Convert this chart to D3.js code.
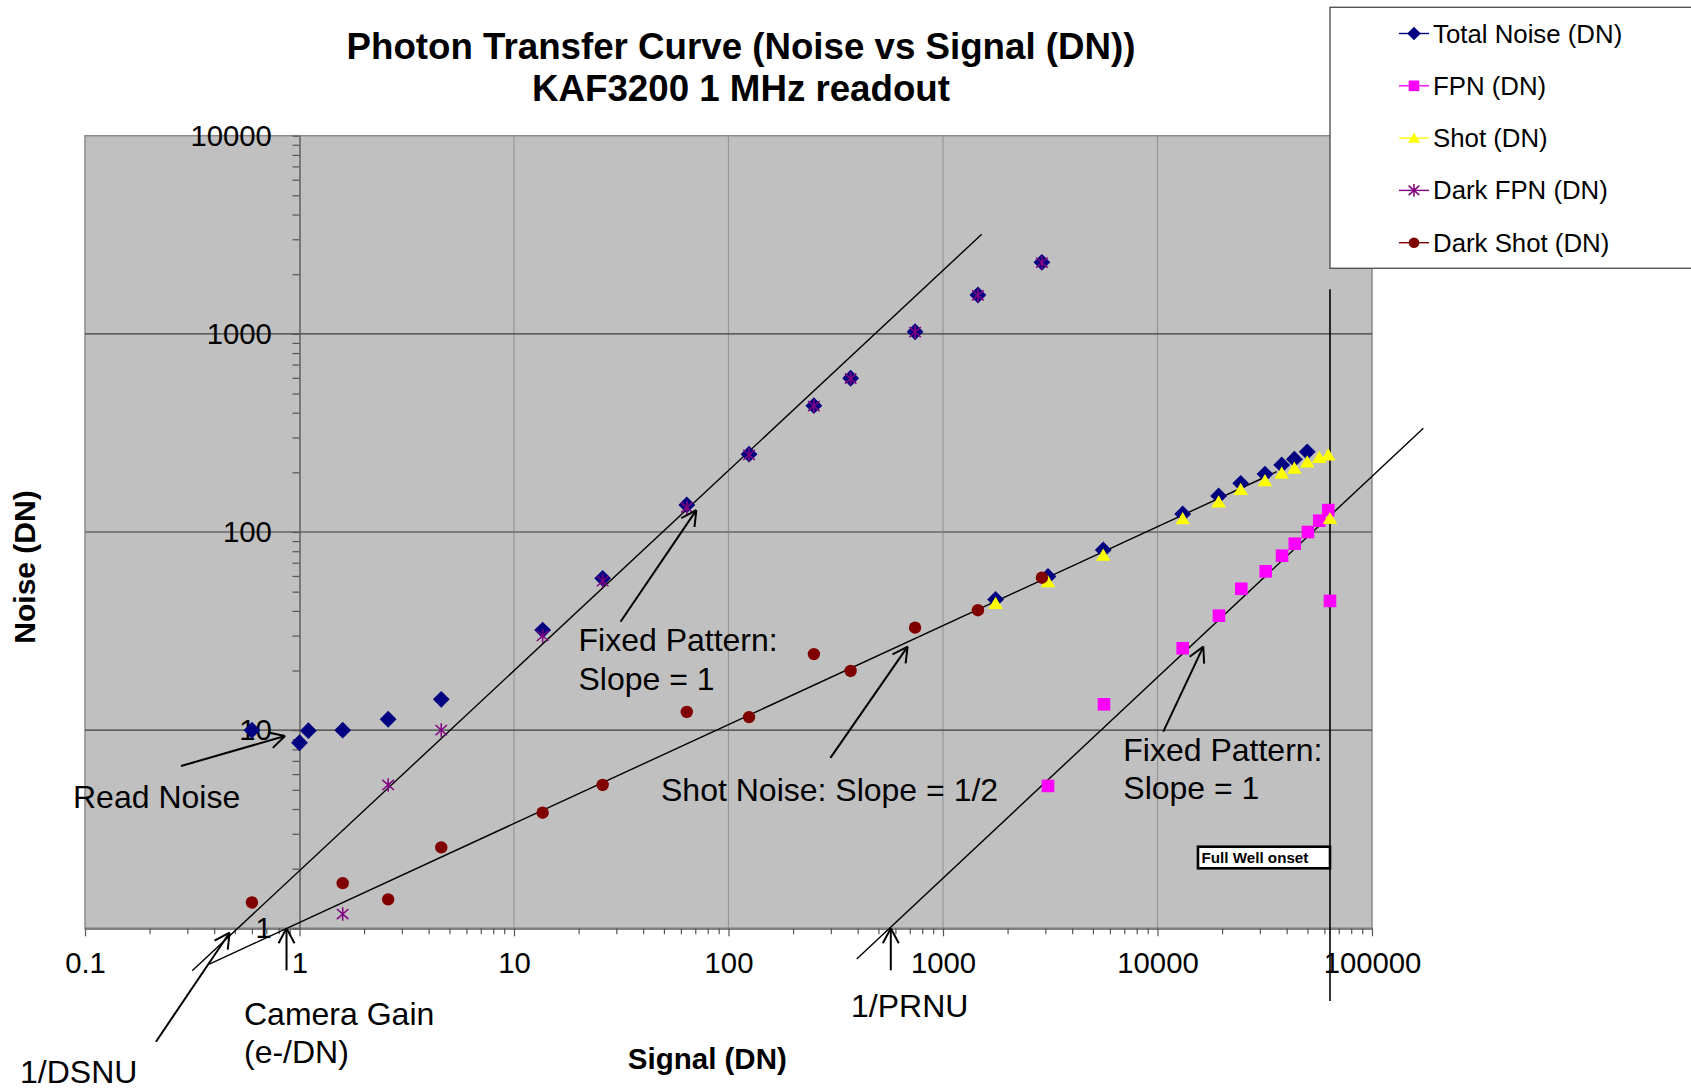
<!DOCTYPE html>
<html>
<head>
<meta charset="utf-8">
<script src="https://cdn.jsdelivr.net/npm/d3@7"></script>
<style>
  html, body { margin: 0; padding: 0; background: #ffffff; }
  svg { display: block; font-family: "Liberation Sans", Arial, sans-serif; }
</style>
</head>
<body>
<svg id="chart" width="1691" height="1088"></svg>
<script>
// ---- Photon transfer data, KAF3200 at 1 MHz readout (signal and noise in DN) ----
const seriesNames = ["Total Noise (DN)", "FPN (DN)", "Shot (DN)", "Dark FPN (DN)", "Dark Shot (DN)"];

const totalNoiseSignal = [0.6, 1.0, 1.1, 1.59, 2.59, 4.58, 13.6, 25.9, 63.9, 124.7, 250, 371, 741, 1455, 2891,
                          1759, 3087, 5585, 13110, 19280, 24430, 31700, 37950, 43450, 49900];
const totalNoiseDN     = [10.0, 8.64, 9.94, 10.0, 11.35, 14.3, 32.0, 58.4, 137, 247, 434, 597, 1025, 1571, 2297,
                          45.7, 59.7, 81.2, 123.3, 152, 176, 196, 218, 233, 254];

const fpnSignal = [3087, 5630, 13110, 19340, 24580, 31950, 38080, 43650, 50250, 56750, 62520, 63700];
const fpnDN     = [5.23, 13.5, 25.9, 37.8, 51.7, 63.3, 75.9, 87.3, 100, 114, 129, 44.9];

const shotSignal = [1759, 3087, 5585, 13110, 19280, 24430, 31700, 37950, 43450, 49900, 56750, 62520, 63700];
const shotDN     = [43.6, 56.1, 76.5, 116.7, 142, 164, 181.5, 198, 210, 226, 238, 245, 117];

const darkFpnSignal = [1.59, 2.59, 4.58, 13.6, 25.9, 63.9, 124.7, 250, 371, 741, 1455, 2891];
const darkFpnDN     = [1.18, 5.29, 10.0, 29.9, 56.5, 133, 245, 432, 595, 1020, 1565, 2290];

const darkShotSignal = [0.6, 1.59, 2.59, 4.58, 13.6, 25.9, 63.9, 124.7, 250, 371, 741, 1455, 2891];
const darkShotDN     = [1.35, 1.69, 1.40, 2.56, 3.83, 5.29, 12.35, 11.64, 24.2, 19.9, 32.9, 40.3, 58.8];

// Hand-fitted guide lines (end points in signal / noise DN)
const fixedPatternDarkSignal = [0.316, 1515];
const fixedPatternDarkNoise  = [0.61, 3180];
const shotFitSignal = [0.38, 35950];
const shotFitNoise  = [0.66, 201.5];
const fixedPatternLightSignal = [396, 173500];
const fixedPatternLightNoise  = [0.70, 333.7];
const fullWellSignal = 63700;
const fullWellNoise  = [0.43, 1680];

// Axis ticks
const xTickValues = [0.1, 1, 10, 100, 1000, 10000, 100000];
const xTickLabels = ["0.1", "1", "10", "100", "1000", "10000", "100000"];
const yTickValues = [1, 10, 100, 1000, 10000];
const yTickLabels = ["1", "10", "100", "1000", "10000"];

// ---- Layout ----
const svg = d3.select("#chart");
const plot = { left: 85, right: 1372, top: 135.7, bottom: 928.3 };
const FONT = "'Liberation Sans', Arial, sans-serif";

const x = d3.scaleLog().domain([0.1, 100000]).range([plot.left, plot.right]);
const y = d3.scaleLog().domain([1, 10000]).range([plot.bottom, plot.top]);

function minorTicks(lo, hi) {
  const out = [];
  for (let e = Math.round(Math.log10(lo)); e < Math.round(Math.log10(hi)); e++) {
    for (let m = 1; m < 10; m++) out.push(m * Math.pow(10, e));
  }
  out.push(hi);
  return out;
}
const isDecade = v => Math.abs(Math.log10(v) - Math.round(Math.log10(v))) < 1e-9;

// Plot area
svg.append("rect")
  .attr("x", plot.left).attr("y", plot.top)
  .attr("width", plot.right - plot.left).attr("height", plot.bottom - plot.top)
  .attr("fill", "#c0c0c0").attr("stroke", "#8a8a8a").attr("stroke-width", 1.5);

// Vertical grid lines
svg.append("g").selectAll("line")
  .data(xTickValues.filter(v => v > 0.1 && v < 100000 && v !== 1))
  .join("line")
  .attr("x1", d => x(d)).attr("x2", d => x(d))
  .attr("y1", plot.top).attr("y2", plot.bottom)
  .attr("stroke", "#979797").attr("stroke-width", 1.2);

// Horizontal grid lines
svg.append("g").selectAll("line")
  .data(yTickValues.filter(v => v > 1 && v < 10000))
  .join("line")
  .attr("x1", plot.left).attr("x2", plot.right)
  .attr("y1", d => y(d)).attr("y2", d => y(d))
  .attr("stroke", d => d === 100 ? "#7c7c7c" : "#3c3c3c")
  .attr("stroke-width", d => d === 100 ? 2 : 1.2);

// X axis along the bottom edge
const xAxis = d3.axisBottom(x)
  .tickValues(minorTicks(0.1, 100000))
  .tickSize(7).tickSizeOuter(0).tickPadding(17.3)
  .tickFormat(d => isDecade(d) ? xTickLabels[xTickValues.findIndex(v => Math.abs(v - d) / v < 1e-9)] : "");
const gx = svg.append("g").attr("transform", `translate(0,${plot.bottom})`).call(xAxis);
gx.select(".domain").attr("stroke", "#808080").attr("stroke-width", 2.2);
gx.selectAll(".tick line").attr("stroke", "#555").attr("stroke-width", 1.2)
  .attr("y2", d => isDecade(d) ? 8 : 6);
gx.selectAll(".tick text").attr("font-family", FONT).attr("font-size", 29.3).attr("fill", "#000");

// Y axis through signal = 1
const yAxis = d3.axisLeft(y)
  .tickValues(minorTicks(1, 10000))
  .tickSize(7).tickSizeOuter(0).tickPadding(20.6)
  .tickFormat(d => isDecade(d) ? yTickLabels[yTickValues.findIndex(v => Math.abs(v - d) / v < 1e-9)] : "");
const gy = svg.append("g").attr("transform", `translate(${x(1)},0)`).call(yAxis);
gy.select(".domain").attr("stroke", "#5a5a5a").attr("stroke-width", 1.4);
gy.selectAll(".tick line").attr("stroke", "#555").attr("stroke-width", 1.2);
gy.selectAll(".tick text").attr("font-family", FONT).attr("font-size", 29.3).attr("fill", "#000");

// ---- Guide lines ----
const guides = svg.append("g").attr("stroke", "#000").attr("stroke-width", 1.4).attr("fill", "none");
[[fixedPatternDarkSignal, fixedPatternDarkNoise],
 [shotFitSignal, shotFitNoise],
 [fixedPatternLightSignal, fixedPatternLightNoise]].forEach(([sx, sy]) => {
  guides.append("line")
    .attr("x1", x(sx[0])).attr("y1", y(sy[0]))
    .attr("x2", x(sx[1])).attr("y2", y(sy[1]));
});
guides.append("line")
  .attr("x1", x(fullWellSignal)).attr("x2", x(fullWellSignal))
  .attr("y1", y(fullWellNoise[0])).attr("y2", y(fullWellNoise[1]))
  .attr("stroke-width", 1.6);

// ---- Markers ----
const markerPaths = {
  diamond: s => `M0,${-s}L${s},0L0,${s}L${-s},0Z`,
  square: s => `M${-s},${-s}H${s}V${s}H${-s}Z`,
  triangle: s => `M0,${-s * 1.0}L${s * 1.1},${s * 0.85}L${-s * 1.1},${s * 0.85}Z`,
  circle: s => `M${s},0A${s},${s} 0 1,1 ${-s},0A${s},${s} 0 1,1 ${s},0Z`,
  asterisk: s => `M0,${-s}V${s}M${-s * 0.85},${-s * 0.75}L${s * 0.85},${s * 0.75}M${-s * 0.85},${s * 0.75}L${s * 0.85},${-s * 0.75}`
};

const seriesDefs = [
  { name: seriesNames[0], xs: totalNoiseSignal, ys: totalNoiseDN, color: "#000080", shape: "diamond", size: 8.4, lsize: 6.8 },
  { name: seriesNames[1], xs: fpnSignal, ys: fpnDN, color: "#ff00ff", shape: "square", size: 6.3, lsize: 5.3 },
  { name: seriesNames[2], xs: shotSignal, ys: shotDN, color: "#ffff00", shape: "triangle", size: 6.6, lsize: 5.5 },
  { name: seriesNames[3], xs: darkFpnSignal, ys: darkFpnDN, color: "#800080", shape: "asterisk", size: 6.8, lsize: 6.3 },
  { name: seriesNames[4], xs: darkShotSignal, ys: darkShotDN, color: "#800000", shape: "circle", size: 6.2, lsize: 5.3 }
];

function drawMarker(g, def, cx, cy, s) {
  const p = g.append("path")
    .attr("transform", `translate(${cx},${cy})`)
    .attr("d", markerPaths[def.shape](s));
  if (def.shape === "asterisk") {
    p.attr("fill", "none").attr("stroke", def.color).attr("stroke-width", 1.5);
  } else {
    p.attr("fill", def.color).attr("stroke", "none");
  }
}

seriesDefs.forEach(def => {
  const g = svg.append("g").attr("class", "series");
  def.xs.forEach((sx, i) => drawMarker(g, def, x(sx), y(def.ys[i]), def.size));
});

// ---- Annotations ----
const ann = svg.append("g").attr("font-family", FONT).attr("font-size", 32).attr("fill", "#000");

function arrow(tipX, tipY, dx, dy) {
  const tx = tipX + dx, ty = tipY + dy;
  const g = svg.append("g").attr("stroke", "#000").attr("stroke-width", 2).attr("fill", "none");
  g.append("line").attr("x1", tx).attr("y1", ty).attr("x2", tipX).attr("y2", tipY);
  const ang = Math.atan2(ty - tipY, tx - tipX);
  const len = 17, spread = 28 * Math.PI / 180;
  [ang - spread, ang + spread].forEach(a => {
    g.append("line").attr("x1", tipX).attr("y1", tipY)
      .attr("x2", tipX + len * Math.cos(a)).attr("y2", tipY + len * Math.sin(a));
  });
}

// Arrow tips sit on the chart values they point at; tails are offsets in pixels
arrow(x(0.856), y(9.34), -104, 30);        // read noise
arrow(x(70.8), y(129), -75.8, 111.7);      // fixed pattern (dark region)
arrow(x(684), y(26.4), -77.2, 111.3);      // shot noise
arrow(x(16350), y(26.4), -40, 85);         // fixed pattern (light region)
arrow(x(0.472), y(0.95), -73.6, 109);      // 1/DSNU
arrow(x(0.87), y(1), 0, 42);               // camera gain
arrow(x(571), y(1), 0, 42);                // 1/PRNU

ann.append("text").attr("x", 73).attr("y", 807.5).text("Read Noise");
ann.append("text").attr("x", 578.5).attr("y", 651).text("Fixed Pattern:");
ann.append("text").attr("x", 578.5).attr("y", 690).text("Slope = 1");
ann.append("text").attr("x", 661).attr("y", 801).text("Shot Noise: Slope = 1/2");
ann.append("text").attr("x", 1123.3).attr("y", 761).text("Fixed Pattern:");
ann.append("text").attr("x", 1123.3).attr("y", 799).text("Slope = 1");
ann.append("text").attr("x", 20).attr("y", 1082.5).text("1/DSNU");
ann.append("text").attr("x", 244).attr("y", 1025).text("Camera Gain");
ann.append("text").attr("x", 244).attr("y", 1062.5).text("(e-/DN)");
ann.append("text").attr("x", 851).attr("y", 1016.5).text("1/PRNU");

// Full well label box
const fw = svg.append("g");
const fwRight = x(fullWellSignal);
fw.append("rect").attr("x", fwRight - 132).attr("y", 846.7).attr("width", 132).attr("height", 21.6)
  .attr("fill", "#fff").attr("stroke", "#000").attr("stroke-width", 2.6);
fw.append("text").attr("x", fwRight - 128.5).attr("y", 863.3)
  .attr("font-family", FONT).attr("font-weight", "bold").attr("font-size", 15.2).text("Full Well onset");

// ---- Titles ----
const titles = svg.append("g").attr("font-family", FONT).attr("font-weight", "bold").attr("fill", "#000");
titles.append("text").attr("x", 741).attr("y", 59).attr("text-anchor", "middle").attr("font-size", 36.7)
  .text("Photon Transfer Curve (Noise vs Signal (DN))");
titles.append("text").attr("x", 741).attr("y", 101).attr("text-anchor", "middle").attr("font-size", 36.7)
  .text("KAF3200 1 MHz readout");
titles.append("text").attr("x", 707.3).attr("y", 1068.5).attr("text-anchor", "middle").attr("font-size", 29.5)
  .text("Signal (DN)");
titles.append("text").attr("transform", "translate(34.5,567) rotate(-90)").attr("text-anchor", "middle")
  .attr("font-size", 30).text("Noise (DN)");

// ---- Legend ----
const legend = svg.append("g");
legend.append("rect").attr("x", 1330).attr("y", 7.3).attr("width", 400).attr("height", 261)
  .attr("fill", "#fff").attr("stroke", "#555").attr("stroke-width", 1.4);
seriesDefs.forEach((def, i) => {
  const cy = 33.5 + i * 52.3;
  legend.append("line").attr("x1", 1399).attr("x2", 1429).attr("y1", cy).attr("y2", cy)
    .attr("stroke", def.color).attr("stroke-width", 1.4);
  drawMarker(legend, def, 1414, cy, def.lsize);
  legend.append("text").attr("x", 1433).attr("y", cy).attr("dy", "0.35em")
    .attr("font-family", FONT).attr("font-size", 25.8).attr("fill", "#000").text(def.name);
});
</script>
</body>
</html>
